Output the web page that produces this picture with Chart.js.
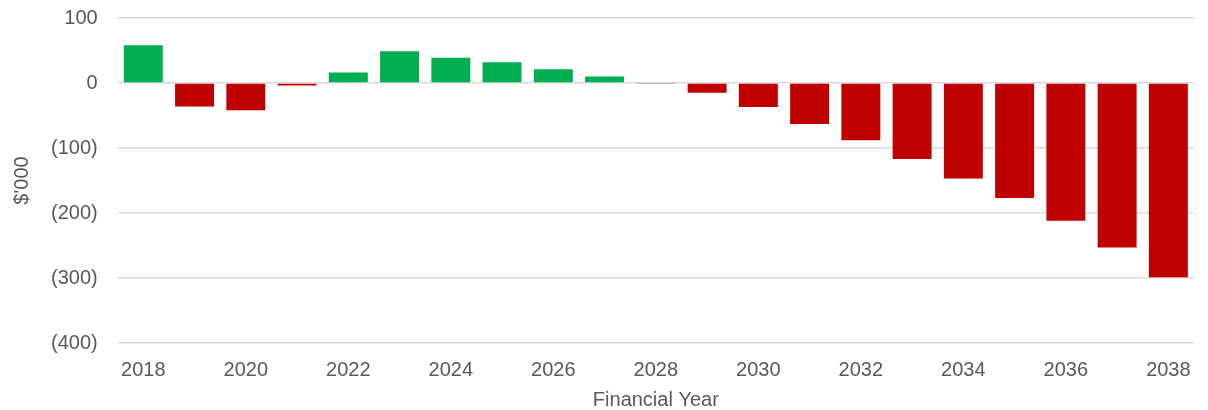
<!DOCTYPE html>
<html>
<head>
<meta charset="utf-8">
<script src="https://cdn.jsdelivr.net/npm/chart.js@4"></script>
<style>
  html, body { margin: 0; padding: 0; background: #fff; overflow: hidden; }
  #wrap { width: 1208px; height: 426px; margin-top: -14px; }
</style>
</head>
<body>
<div id="wrap"><canvas id="chart"></canvas></div>
<script>
// Financial years and net position ($'000)
const years = ['2018','2019','2020','2021','2022','2023','2024','2025','2026','2027','2028',
               '2029','2030','2031','2032','2033','2034','2035','2036','2037','2038'];
const values = [58, -36, -42, -4, 16, 49, 39, 32, 21, 10, -1.5,
                -15, -37, -63, -88, -117, -147, -177, -212, -253, -299];
const yTicks = [100, 0, -100, -200, -300, -400];

const GREEN = '#00b050';
const RED = '#c00000';
const FONT = 'Liberation Sans, Arial, sans-serif';
const FONT_SIZE = 20;

const fmt = v => v < 0 ? '(' + Math.abs(v) + ')' : String(v);

new Chart(document.getElementById('chart'), {
  type: 'bar',
  data: {
    labels: years,
    datasets: [{
      data: values,
      backgroundColor: values.map(v => v >= 0 ? GREEN : RED),
      borderWidth: 0,
      barPercentage: 0.76,
      categoryPercentage: 1,
    }],
  },
  options: {
    responsive: true,
    maintainAspectRatio: false,
    animation: false,
    layout: { padding: { top: 0, right: 14, left: 10, bottom: 0 } },
    plugins: { legend: { display: false }, tooltip: { enabled: false } },
    scales: {
      x: {
        grid: { display: false },
        border: { display: false },
        ticks: {
          color: '#595959',
          font: { family: FONT, size: FONT_SIZE },
          autoSkip: false,
          maxRotation: 0,
          padding: 7,
          callback: (v, i) => i % 2 === 0 ? years[i] : '',
        },
        title: {
          display: true,
          text: 'Financial Year',
          color: '#595959',
          font: { family: FONT, size: FONT_SIZE },
          padding: { top: -1, bottom: 0 },
        },
      },
      y: {
        min: -400,
        max: 100,
        afterBuildTicks: axis => { axis.ticks = yTicks.map(v => ({ value: v })); },
        grid: { color: '#d9d9d9', lineWidth: 1.5, drawTicks: false },
        border: { display: false },
        ticks: {
          color: '#595959',
          font: { family: FONT, size: FONT_SIZE },
          padding: 20,
          callback: v => fmt(v),
        },
        title: {
          display: true,
          text: "$'000",
          color: '#595959',
          font: { family: FONT, size: FONT_SIZE },
          padding: { top: 0, bottom: -3 },
        },
      },
    },
  },
});
</script>
</body>
</html>
